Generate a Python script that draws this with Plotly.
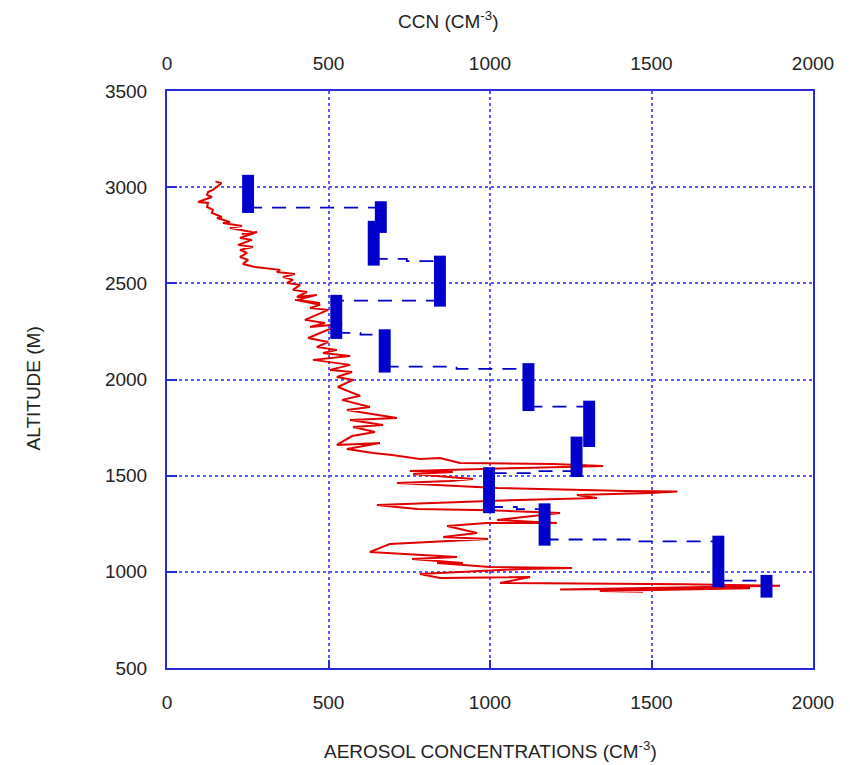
import plotly.graph_objects as go

# CCN measurements: concentration and the altitude band of each level leg
ccn_value = [251, 662, 640, 845, 524, 674, 1119, 1307, 1268, 997, 1169, 1707, 1856]
ccn_alt_top = [3064, 2927, 2825, 2644, 2440, 2261, 2085, 1890, 1703, 1544, 1356, 1188, 984]
ccn_alt_bottom = [2866, 2762, 2592, 2379, 2211, 2036, 1836, 1649, 1493, 1305, 1136, 920, 866]

# transitions between consecutive legs (None = legs touch directly)
link_alt_start = [2894, None, 2627, 2410, 2242, 2067, 1859, None, 1524, 1337, 1168, 954]
link_alt_end = [2894, None, 2615, 2410, 2233, 2055, 1859, None, 1513, 1326, 1158, 954]

# aerosol concentration profile along the descent
aerosol_conc = [
    150, 169, 142, 127, 124, 139, 96, 127, 124, 142, 139, 170, 155, 195, 173, 232,
    195, 263, 232, 279, 226, 263, 220, 266, 226, 248, 226, 251, 235, 272, 350, 340,
    396, 359, 390, 371, 412, 390, 433, 402, 464, 405, 474, 396, 474, 443, 499, 427,
    489, 443, 542, 437, 499, 464, 526, 483, 567, 452, 567, 505, 573, 526, 576, 529,
    598, 542, 628, 557, 712, 567, 669, 576, 644, 573, 526, 659, 557, 638, 697, 783,
    845, 907, 1195, 1350, 1100, 752, 885, 762, 947, 876, 712, 1022, 1424, 1580, 1495, 1269,
    1331, 1093, 650, 774, 1000, 1217, 1022, 1207, 990, 867, 960, 855, 994, 690, 628,
    898, 759, 916, 836, 1000, 1254, 1100, 783, 845, 1124, 1031, 1600, 1898, 1217,
    1805, 1340, 1474,
]
aerosol_alt = [
    3030, 3020, 2986, 2975, 2960, 2949, 2923, 2918, 2897, 2882, 2866, 2845, 2840, 2819, 2814, 2798,
    2788, 2767, 2757, 2767, 2736, 2726, 2700, 2689, 2674, 2658, 2637, 2622, 2601, 2585, 2570, 2559,
    2549, 2533, 2518, 2502, 2492, 2466, 2455, 2429, 2440, 2414, 2398, 2414, 2388, 2372, 2362, 2310,
    2294, 2273, 2289, 2216, 2195, 2169, 2154, 2138, 2122, 2102, 2076, 2050, 2039, 2013, 1998, 1961,
    1915, 1894, 1857, 1842, 1800, 1790, 1764, 1753, 1727, 1706, 1660, 1670, 1639, 1618, 1608, 1587,
    1592, 1566, 1561, 1550, 1540, 1524, 1519, 1509, 1483, 1472, 1462, 1436, 1420, 1418, 1410, 1400,
    1384, 1374, 1348, 1327, 1320, 1306, 1270, 1254, 1254, 1238, 1202, 1181, 1171, 1145, 1103,
    1077, 1067, 1046, 1046, 1025, 1020, 1015, 989, 968, 973, 942, 935, 928, 908,
    915, 900, 896,
]

x_ticks = [0, 500, 1000, 1500, 2000]
y_ticks = [500, 1000, 1500, 2000, 2500, 3000, 3500]

AXIS_BLUE = "#2b2bd6"
GRID_BLUE = "#5a5aff"
BAR_BLUE = "#0000cc"
RED = "#e00000"
FONT = dict(family="Liberation Sans, Arial, sans-serif", size=19, color="#222222")

# dashed transition segments, separated by gaps
link_x, link_y = [], []
for i, (a0, a1) in enumerate(zip(link_alt_start, link_alt_end)):
    if a0 is None:
        continue
    xa, xb = ccn_value[i], ccn_value[i + 1]
    xm = (xa + xb) / 2
    link_x += [xa, xm, xm, xb, None]
    link_y += [a0, a0, a1, a1, None]

fig = go.Figure()

fig.add_trace(go.Scatter(
    x=aerosol_conc, y=aerosol_alt, mode="lines",
    line=dict(color=RED, width=2), xaxis="x", yaxis="y",
    showlegend=False,
))

fig.add_trace(go.Scatter(
    x=link_x, y=link_y, mode="lines",
    line=dict(color=BAR_BLUE, width=1.8, dash="14px,10px"),
    xaxis="x2", yaxis="y", showlegend=False,
))

fig.add_trace(go.Bar(
    x=ccn_value,
    y=[t - b for t, b in zip(ccn_alt_top, ccn_alt_bottom)],
    base=ccn_alt_bottom,
    width=37,
    marker=dict(color=BAR_BLUE, line=dict(width=0)),
    xaxis="x2", yaxis="y", showlegend=False,
))

fig.update_layout(
    width=850, height=765,
    margin=dict(l=167, r=37, t=91, b=97, autoexpand=False),
    paper_bgcolor="white", plot_bgcolor="white",
    font=FONT,
    barmode="overlay",
    xaxis=dict(
        range=[0, 2000], tickvals=x_ticks, ticktext=[str(v) for v in x_ticks],
        ticks="inside", ticklen=8, tickcolor=AXIS_BLUE, tickwidth=1.5,
        showline=True, linecolor=AXIS_BLUE, linewidth=2, mirror=True,
        showgrid=True, gridcolor=GRID_BLUE, griddash="dot", gridwidth=1.5,
        zeroline=False, ticklabelstandoff=16, automargin=False,
    ),
    xaxis2=dict(
        range=[0, 2000], tickvals=x_ticks, ticktext=[str(v) for v in x_ticks],
        overlaying="x", side="top", anchor="y",
        ticks="", showline=False, showgrid=False, zeroline=False,
        ticklabelstandoff=16, automargin=False,
    ),
    yaxis=dict(
        range=[500, 3500], tickvals=y_ticks, ticktext=[str(v) for v in y_ticks],
        ticks="inside", ticklen=10, tickcolor=AXIS_BLUE, tickwidth=1.5,
        showline=True, linecolor=AXIS_BLUE, linewidth=2, mirror=True,
        showgrid=True, gridcolor=GRID_BLUE, griddash="dot", gridwidth=1.5,
        zeroline=False, ticklabelstandoff=14, automargin=False,
    ),
    annotations=[
        dict(text="AEROSOL CONCENTRATIONS (CM<sup>-3</sup>)", xref="paper", yref="paper",
             x=0.5, y=-0.142, xanchor="center", yanchor="middle", showarrow=False, font=FONT),
        dict(text="CCN (CM<sup>-3</sup>)", xref="paper", yref="paper",
             x=0.435, y=1.123, xanchor="center", yanchor="middle", showarrow=False, font=FONT),
        dict(text="ALTITUDE (M)", xref="paper", yref="paper", textangle=-90,
             x=-0.207, y=0.485, xanchor="center", yanchor="middle", showarrow=False, font=FONT),
    ],
)

fig.write_html("out.html")
